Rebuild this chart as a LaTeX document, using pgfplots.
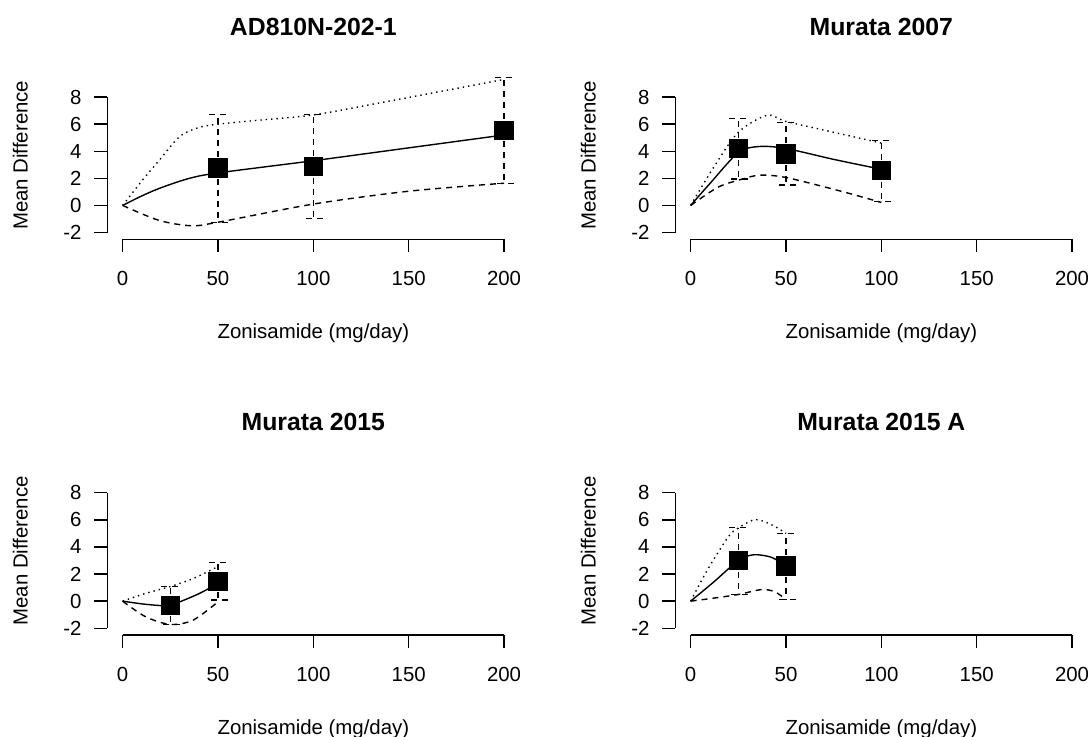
\documentclass[border=0pt]{standalone}
\usepackage{fontspec}
\setmainfont{Liberation Sans}
\usepackage{pgfplots}
\pgfplotsset{compat=1.18}
\usepackage{pgfplotstable}

% point estimates with 95% CI (x, mean, lower, upper)
\pgfplotstableread{
x y lo hi
50 2.77 -1.24 6.73
100 2.87 -0.95 6.69
200 5.55 1.64 9.43
}\ptsA
\pgfplotstableread{
x y lo hi
25 4.20 1.94 6.43
50 3.81 1.52 6.10
100 2.57 0.29 4.80
}\ptsB
\pgfplotstableread{
x y lo hi
25 -0.31 -1.72 1.06
50 1.47 0.07 2.85
}\ptsC
\pgfplotstableread{
x y lo hi
25 2.99 0.49 5.43
50 2.60 0.12 4.99
}\ptsD

\pgfplotsset{
  rpanel/.style={
    scale only axis, width=205.95pt, height=84pt,
    anchor=south west,
    xmin=-8, xmax=208, ymin=-2.5, ymax=9.9,
    axis x line*=bottom, axis y line*=left,
    axis line style={draw=none},
    xtick={0,50,100,150,200}, ytick={-2,0,2,4,6,8},
    tick align=outside, major tick length=6.5pt,
    tick style={black, line width=0.7pt},
    ticklabel style={font=\fontsize{10.2}{12}\selectfont, text=black},
    xticklabel style={yshift=-6pt},
    yticklabel style={xshift=-2.9pt},
    /pgf/number format/assume math mode=true,
    xlabel={Zonisamide (mg/day)}, ylabel={Mean Difference},
    every axis x label/.style={at={(axis description cs:0.5,0)}, anchor=center, yshift=-46.9pt, font=\fontsize{10.2}{12}\selectfont},
    every axis y label/.style={at={(axis description cs:0,0.5)}, xshift=-43.5pt, anchor=center, rotate=90, font=\fontsize{10.2}{12}\selectfont},
    every axis title/.style={at={(axis description cs:0.5,1)}, anchor=center, yshift=22.3pt, font=\bfseries\fontsize{12.4}{15}\selectfont},
    clip=false,
  },
  mdline/.style={black, line width=0.7pt, smooth, mark=none},
  upline/.style={black, line width=0.7pt, smooth, mark=none, dash pattern=on 0.7pt off 2pt},
  loline/.style={black, line width=0.7pt, smooth, mark=none, dash pattern=on 3pt off 2.5pt},
  ebars/.style={black, only marks, mark=none,
    error bars/.cd, y dir=both, y explicit,
    error bar style={line width=0.7pt, dash pattern=on 3pt off 2.5pt},
    error mark options={rotate=90, mark size=4.75pt, line width=0.7pt, dash pattern=on 3pt off 2.5pt}},
  sqmarks/.style={black, only marks, mark=square*, mark size=4.6pt},
}
\newcommand{\raxes}{%
  \draw[line width=0.7pt] (axis cs:0,-2.5) -- (axis cs:200,-2.5);
  \draw[line width=0.7pt] (axis cs:-8,-2) -- (axis cs:-8,8);}

\begin{document}
\begin{tikzpicture}
\useasboundingbox (0,0) rectangle (544pt,368pt);
\clip (0,0) rectangle (544pt,368pt);

% ---- Panel 1
\begin{axis}[rpanel, at={(53.7pt,248.35pt)}, title={AD810N-202-1}]
\raxes
\addplot[upline] coordinates {(0,0) (10,1.8) (19,3.3) (30,5.1) (40,5.75) (50,6.0) (72,6.3) (100,6.68) (136,7.6) (200,9.3)};
\addplot[mdline] coordinates {(0,0) (10,0.7) (20,1.3) (35,2.0) (50,2.4) (100,3.3) (150,4.25) (200,5.2)};
\addplot[loline] coordinates {(0,0) (19,-1.1) (36,-1.5) (50,-1.24) (100,0.1) (150,1.05) (200,1.64)};
\addplot[ebars] table[x=x, y=y, y error plus expr=\thisrow{hi}-\thisrow{y}, y error minus expr=\thisrow{y}-\thisrow{lo}] {\ptsA};
\addplot[sqmarks] table[x=x, y=y] {\ptsA};
\end{axis}

% ---- Panel 2
\begin{axis}[rpanel, at={(337.7pt,248.35pt)}, title={Murata 2007}]
\raxes
\addplot[upline] coordinates {(0,0) (12,2.8) (25,5.4) (40,6.65) (50,6.2) (75,5.4) (100,4.6)};
\addplot[mdline] coordinates {(0,0) (10,1.6) (25,3.9) (36,4.35) (50,4.2) (75,3.4) (100,2.67)};
\addplot[loline] coordinates {(0,0) (14,1.32) (25,1.86) (36,2.23) (50,2.06) (78,1.08) (100,0.22)};
\addplot[ebars] table[x=x, y=y, y error plus expr=\thisrow{hi}-\thisrow{y}, y error minus expr=\thisrow{y}-\thisrow{lo}] {\ptsB};
\addplot[sqmarks] table[x=x, y=y] {\ptsB};
\end{axis}

% ---- Panel 3
\begin{axis}[rpanel, at={(53.7pt,50.5pt)}, title={Murata 2015}]
\raxes
\addplot[upline] coordinates {(0,0) (12,0.57) (25,1.08) (37,1.67) (50,2.55)};
\addplot[mdline] coordinates {(0,0) (10,-0.2) (20,-0.33) (25,-0.3) (30,-0.05) (40,0.55) (50,1.3)};
\addplot[loline] coordinates {(0,0) (12,-1.15) (25,-1.72) (37,-1.4) (50,-0.05)};
\addplot[ebars] table[x=x, y=y, y error plus expr=\thisrow{hi}-\thisrow{y}, y error minus expr=\thisrow{y}-\thisrow{lo}] {\ptsC};
\addplot[sqmarks] table[x=x, y=y] {\ptsC};
\end{axis}

% ---- Panel 4
\begin{axis}[rpanel, at={(337.7pt,50.5pt)}, title={Murata 2015 A}]
\raxes
\addplot[upline] coordinates {(0,0) (8.7,2.28) (19.7,4.74) (25,5.4) (34,6.02) (43,5.6) (50,5.0)};
\addplot[mdline] coordinates {(0,0) (12,1.4) (25,3.0) (33,3.42) (42,3.25) (50,2.65)};
\addplot[loline] coordinates {(0,0) (12,0.22) (25,0.49) (37,0.85) (44,0.7) (50,0.12)};
\addplot[ebars] table[x=x, y=y, y error plus expr=\thisrow{hi}-\thisrow{y}, y error minus expr=\thisrow{y}-\thisrow{lo}] {\ptsD};
\addplot[sqmarks] table[x=x, y=y] {\ptsD};
\end{axis}
\end{tikzpicture}
\end{document}
